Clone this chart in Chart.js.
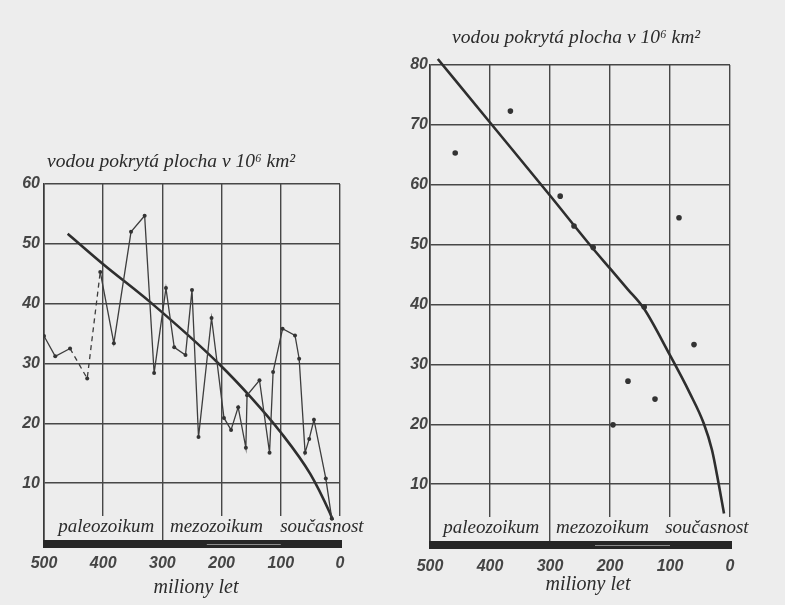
<!DOCTYPE html>
<html>
<head>
<meta charset="utf-8">
<script src="https://cdn.jsdelivr.net/npm/chart.js@4.4.1/dist/chart.umd.min.js"></script>
<style>
  body { margin: 0; background: #ededed; }
  #wrap { position: relative; width: 785px; height: 605px; }
  canvas { position: absolute; top: 0; }
  #left { left: 0; }
  #right { left: 390px; }
</style>
</head>
<body>
<div id="wrap">
  <canvas id="left" width="390" height="605"></canvas>
  <canvas id="right" width="395" height="605"></canvas>
</div>
<script>
"use strict";

// texts
const TITLE = "vodou pokrytá plocha v 10⁶ km²";
const X_TITLE = "miliony let";
const eras = ["paleozoikum", "mezozoikum", "současnost"];
const eraStartLeft = [476, 287, 101];   // millions of years, where each label starts
const eraStartRight = [478, 290, 108];

// left chart - measured curve (age in Ma, area in 10^6 km2)
const leftAges = [500, 481, 456, 427, 405, 382, 353, 330, 314, 294, 280, 261, 250, 239, 217, 196, 184, 172, 159, 157, 136, 119, 113, 97, 76, 69, 59, 52, 44, 24, 14];
const leftArea = [34.6, 31.2, 32.5, 27.5, 45.3, 33.4, 52.0, 54.7, 28.4, 42.6, 32.7, 31.4, 42.3, 17.7, 37.6, 20.9, 18.9, 22.7, 15.9, 24.7, 27.2, 15.1, 28.6, 35.8, 34.7, 30.8, 15.1, 17.4, 20.6, 10.8, 4.1];
// left chart - trend
const leftTrendAges = [460, 400, 321, 203, 150, 101, 50, 17, 12];
const leftTrend = [51.7, 46.6, 40.3, 29.8, 24.3, 18.6, 11.5, 5.0, 3.8];

// right chart - single points
const rightAges = [458, 366, 283, 260, 228, 195, 170, 143, 125, 85, 60];
const rightArea = [65.3, 72.3, 58.1, 53.1, 49.5, 19.9, 27.2, 39.6, 24.2, 54.5, 33.3];
// right chart - trend
const rightTrendAges = [487, 400, 300, 233, 199, 170, 144, 101, 67, 44, 30, 19, 10];
const rightTrend = [81.0, 70.4, 58.2, 49.9, 45.9, 42.5, 39.4, 31.7, 25.2, 20.2, 15.7, 10.1, 5.1];

const BG = "#ededed";
const INK = "#333333";

let toPoints = (xs, ys) => xs.map((x, i) => ({ x: x, y: ys[i] }));

// titles, era names, time bar
let decor = {
  id: "decor",
  beforeDatasetsDraw(chart, args, opts) {
    let ctx = chart.ctx;
    let area = chart.chartArea;
    let xs = chart.scales.x;
    ctx.save();
    ctx.font = "italic 19px 'Liberation Serif', 'DejaVu Serif', serif";
    ctx.textBaseline = "alphabetic";
    eras.forEach((name, i) => {
      let x = xs.getPixelForValue(opts.eraStart[i]);
      let w = ctx.measureText(name).width;
      ctx.fillStyle = BG;
      ctx.fillRect(x - 1, area.bottom - 27, w + 2, 24);
      ctx.fillStyle = "#2b2b2b";
      ctx.fillText(name, x, area.bottom - 11);
    });
    ctx.restore();
  },
  afterDraw(chart, args, opts) {
    let ctx = chart.ctx;
    let area = chart.chartArea;
    ctx.save();
    // thick time bar under the plot
    ctx.fillStyle = "#262626";
    ctx.fillRect(area.left - 1, area.bottom - 3, area.width + 3, 8);
    ctx.fillStyle = "#8a8a8a";
    ctx.fillRect(area.left + area.width * 0.55, area.bottom + 1, area.width * 0.25, 1);

    ctx.fillStyle = "#2b2b2b";
    ctx.font = "italic 19.5px 'Liberation Serif', 'DejaVu Serif', serif";
    ctx.textAlign = "left";
    ctx.fillText(TITLE, opts.titleX, opts.titleY);

    ctx.font = "italic 20px 'Liberation Serif', 'DejaVu Serif', serif";
    ctx.textAlign = "center";
    ctx.fillText(X_TITLE, opts.xTitleX, opts.xTitleY);
    ctx.restore();
  }
};

let tickFont = { family: "'Liberation Sans'", style: "italic", weight: "bold", size: 16 };

let makeScales = (yMax, yWidth, yPad, xHeight, xPad) => ({
  x: {
    type: "linear",
    reverse: true,
    min: 0,
    max: 500,
    ticks: { stepSize: 100, padding: xPad, color: "#454545", font: tickFont },
    grid: { color: "#474747", lineWidth: 1.4, drawTicks: false },
    border: { color: "#3a3a3a", width: 1.6 },
    afterFit: s => { s.height = xHeight; }
  },
  y: {
    min: 0,
    max: yMax,
    ticks: {
      stepSize: 10,
      padding: yPad,
      color: "#454545",
      font: tickFont,
      callback: v => (v === 0 ? "" : v)
    },
    grid: { color: "#474747", lineWidth: 1.4, drawTicks: false },
    border: { color: "#3a3a3a", width: 1.6 },
    afterFit: s => { s.width = yWidth; }
  }
});

let leftChart = new Chart(document.querySelector("#left"), {
  type: "line",
  data: {
    datasets: [{
      label: "plocha",
      data: toPoints(leftAges, leftArea),
      borderColor: "#3d3d3d",
      borderWidth: 1.3,
      pointRadius: 2,
      pointBackgroundColor: INK,
      pointBorderWidth: 0,
      tension: 0,
      segment: {
        borderDash: c => (c.p0DataIndex >= 2 && c.p0DataIndex <= 3 ? [5, 4] : undefined)
      }
    }, {
      label: "trend",
      data: toPoints(leftTrendAges, leftTrend),
      borderColor: "#2e2e2e",
      borderWidth: 2.6,
      pointRadius: 0,
      cubicInterpolationMode: "monotone"
    }]
  },
  options: {
    responsive: false,
    animation: false,
    layout: { padding: { top: 184, right: 50, left: 0, bottom: 0 } },
    scales: makeScales(60, 44, 4, 62, 11),
    plugins: {
      legend: { display: false },
      tooltip: { enabled: false },
      decor: { eraStart: eraStartLeft, titleX: 47, titleY: 167, xTitleX: 196, xTitleY: 593 }
    }
  },
  plugins: [decor]
});

let rightChart = new Chart(document.querySelector("#right"), {
  type: "line",
  data: {
    datasets: [{
      label: "body",
      type: "scatter",
      data: toPoints(rightAges, rightArea),
      pointRadius: 2.8,
      pointBackgroundColor: INK,
      pointBorderWidth: 0
    }, {
      label: "trend",
      data: toPoints(rightTrendAges, rightTrend),
      borderColor: "#2e2e2e",
      borderWidth: 2.6,
      pointRadius: 0,
      cubicInterpolationMode: "monotone",
      clip: false
    }]
  },
  options: {
    responsive: false,
    animation: false,
    layout: { padding: { top: 65, right: 55, left: 0, bottom: 0 } },
    scales: makeScales(80, 40, 2, 61, 13),
    plugins: {
      legend: { display: false },
      tooltip: { enabled: false },
      decor: { eraStart: eraStartRight, titleX: 62, titleY: 43, xTitleX: 198, xTitleY: 590 }
    }
  },
  plugins: [decor]
});
</script>
</body>
</html>
